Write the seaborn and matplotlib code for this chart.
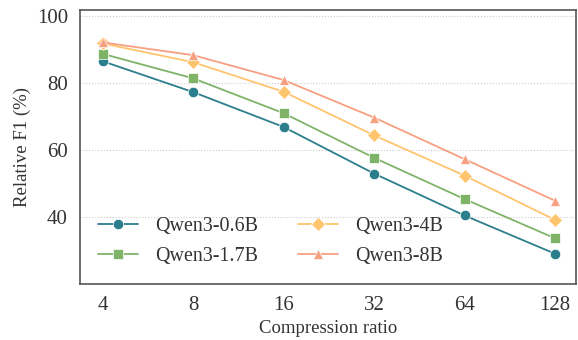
import matplotlib
matplotlib.use("Agg")
import matplotlib.pyplot as plt
import seaborn as sns
import pandas as pd

ratios = [4, 8, 16, 32, 64, 128]
models = ["Qwen3-0.6B", "Qwen3-1.7B", "Qwen3-4B", "Qwen3-8B"]
f1_06b = [86.4, 77.2, 66.8, 52.9, 40.4, 29.0]
f1_17b = [88.6, 81.3, 70.9, 57.6, 45.3, 33.6]
f1_4b = [91.7, 86.1, 77.3, 64.3, 52.3, 39.1]
f1_8b = [92.0, 88.2, 80.8, 69.6, 57.2, 44.8]
colors = ["#2B7E8C", "#7FB468", "#FFC46E", "#F7A081"]
markers = ["o", "s", "D", "^"]

rows = []
for m, vals in zip(models, [f1_06b, f1_17b, f1_4b, f1_8b]):
    for i, (r, v) in enumerate(zip(ratios, vals)):
        rows.append({"model": m, "pos": i, "ratio": r, "f1": v})
df = pd.DataFrame(rows)

sns.set_theme(style="white")
plt.rcParams["font.family"] = ["Liberation Serif", "DejaVu Serif"]

fig, ax = plt.subplots(figsize=(5.78, 3.40), dpi=100)
fig.subplots_adjust(left=0.139, right=0.997, top=0.97, bottom=0.165)

sns.lineplot(data=df, x="pos", y="f1", hue="model", style="model",
             hue_order=models, style_order=models,
             palette=colors, markers=markers, dashes=False,
             markersize=7.5, linewidth=1.3, markeredgewidth=0.5,
             ax=ax)

ax.set_xticks(range(len(ratios)))
ax.set_xticklabels([str(r) for r in ratios])
ax.set_xlim(-0.245, 5.235)
ax.set_ylim(20, 101.6)
ax.set_yticks([40, 60, 80, 100])
ax.tick_params(axis="both", labelsize=15, length=0, pad=9, colors="#333333")
ax.set_xlabel("Compression ratio", fontsize=13.5, color="#333333", labelpad=3)
ax.set_ylabel("Relative F1 (%)", fontsize=13.5, color="#333333", labelpad=4)
ax.yaxis.grid(True, linestyle=":", color="#cccccc", linewidth=0.8)
ax.xaxis.grid(False)
for s in ax.spines.values():
    s.set_color("#555555")
    s.set_linewidth(1.2)

handles, labels = ax.get_legend_handles_labels()
ax.legend(handles, labels, ncol=2, loc="lower left", frameon=False,
          fontsize=14.4, handlelength=2.0, handletextpad=0.85,
          columnspacing=2.0, labelspacing=0.55, labelcolor="#333333")

fig.savefig("out.png", dpi=100)
